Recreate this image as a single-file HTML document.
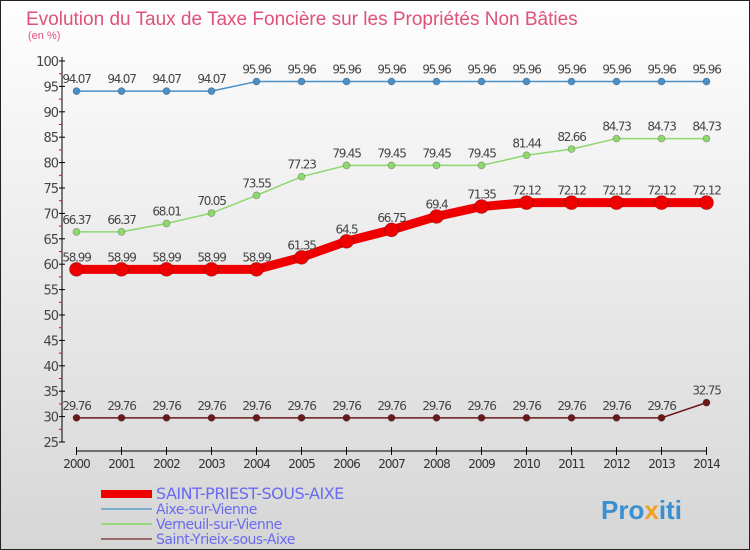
<!DOCTYPE html>
<html><head><meta charset="utf-8"><style>
body{margin:0}
#c{width:750px;height:550px;position:relative;overflow:hidden;box-sizing:border-box;border:1px solid #222;background:linear-gradient(#fefefe,#d6d6d6);font-family:"DejaVu Sans","Liberation Sans",sans-serif}
</style></head><body>
<div id="c">
<svg id="s" width="750" height="550" style="position:absolute;left:0;top:0">
<text x="25" y="24" font-size="19" fill="#e0507a" font-family="Liberation Sans, sans-serif">Evolution du Taux de Taxe Foncière sur les Propriétés Non Bâties</text>
<text x="27" y="38" font-size="11" fill="#e0507a" font-family="Liberation Sans, sans-serif">(en %)</text>
<text x="600" y="518" font-size="26" font-weight="bold" fill="#3a8fd0" font-family="Liberation Sans, sans-serif">Pro<tspan fill="#f0a020">x</tspan>iti</text>
</svg>
</div>
<script>
const years=[2000,2001,2002,2003,2004,2005,2006,2007,2008,2009,2010,2011,2012,2013,2014];
const saintPriest=[58.99,58.99,58.99,58.99,58.99,61.35,64.5,66.75,69.4,71.35,72.12,72.12,72.12,72.12,72.12];
const aixe=[94.07,94.07,94.07,94.07,95.96,95.96,95.96,95.96,95.96,95.96,95.96,95.96,95.96,95.96,95.96];
const verneuil=[66.37,66.37,68.01,70.05,73.55,77.23,79.45,79.45,79.45,79.45,81.44,82.66,84.73,84.73,84.73];
const yrieix=[29.76,29.76,29.76,29.76,29.76,29.76,29.76,29.76,29.76,29.76,29.76,29.76,29.76,29.76,32.75];
const yTicks=[25,30,35,40,45,50,55,60,65,70,75,80,85,90,95,100];
const NS="http://www.w3.org/2000/svg",s=document.getElementById('s');
const X=i=>75.5+i*45, Y=v=>441-(v-25)*(381/75);
function el(t,a,p){const e=document.createElementNS(NS,t);for(const k in a)e.setAttribute(k,a[k]);(p||s).appendChild(e);return e;}
// axes
let ax=el('line',{x1:61,y1:56,x2:61,y2:441,stroke:'#000'});


yTicks.forEach(v=>{el('line',{x1:58,x2:64,y1:Y(v),y2:Y(v),stroke:'#000'});
 if(v<100)el('line',{x1:58,x2:61,y1:Y(v+2.5),y2:Y(v+2.5),stroke:'#f00'});
 const t=el('text',{x:57,y:Y(v)+5,'text-anchor':'end','font-size':13,fill:'#444','letter-spacing':'-1'});t.textContent=v;
 
 });
let xa=el('line',{x1:75.5,y1:450,x2:705.5,y2:450,stroke:'#000'});


years.forEach((y,i)=>{el('line',{x1:X(i),x2:X(i),y1:446,y2:454,stroke:'#000'});
 const t=el('text',{x:X(i),y:467,'text-anchor':'middle','font-size':12,fill:'#333','letter-spacing':'-1'});t.textContent=y;
 
 });
function series(d,col,w,r,name){
 const g=el('g',{});
 
 
 el('polyline',{points:d.map((v,i)=>X(i)+','+Y(v)).join(' '),fill:'none',stroke:col,'stroke-width':w},g);
 d.forEach((v,i)=>{const c=el('circle',{cx:X(i),cy:Y(v),r:r,fill:col,stroke:'rgba(0,0,0,0.3)','stroke-width':0.7},g);
  
  
  const t=el('text',{x:X(i),y:Y(v)-8,'text-anchor':'middle','font-size':12,fill:'#444','letter-spacing':'-1.2'},g);t.textContent=v;
  
  });
}
series(yrieix,'#6b1a1a',1.5,3.5,'saint-yrieix-series');
series(verneuil,'#8fd870',1.5,3.5,'verneuil-series');
series(aixe,'#4a90c8',1.5,3.5,'aixe-series');
series(saintPriest,'#ee0000',9,7,'saint-priest-series');
// legend
const leg=[['SAINT-PRIEST-SOUS-AIXE','#ee0000',8,16],['Aixe-sur-Vienne','#7aaed0',2,14],['Verneuil-sur-Vienne','#9ad880',2,14],['Saint-Yrieix-sous-Aixe','#9a6a6a',2,14]];
leg.forEach((l,i)=>{const y=[493,508,523,538][i];
 const g=el('g',{});
 
 
 el('line',{x1:100,x2:151,y1:y,y2:y,stroke:l[1],'stroke-width':l[2]},g);
 const t=el('text',{x:155,y:y+5,'font-size':l[3],fill:'#6a6af0','letter-spacing':'-0.5'},g);t.textContent=l[0];});
</script>
</body></html>
